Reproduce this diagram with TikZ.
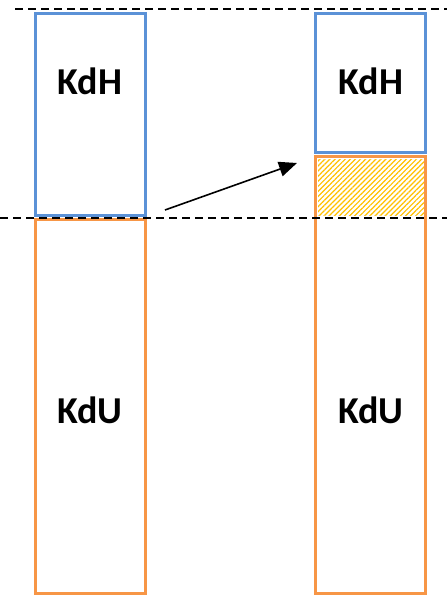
\documentclass[tikz,border=0pt]{standalone}
\usepackage{fontspec}
\setmainfont{Carlito}
\usetikzlibrary{patterns.meta,arrows.meta}
\definecolor{kblue}{RGB}{91,146,215}
\definecolor{korange}{RGB}{247,150,70}
\definecolor{khatch}{RGB}{255,192,0}
\begin{document}
\begin{tikzpicture}[x=1pt,y=-1pt,
  box/.style={draw, line width=3pt, rectangle, inner sep=0pt, minimum width=110pt},
  lbl/.style={font=\fontsize{38}{40}\selectfont\bfseries, inner sep=0pt},
  guide/.style={line width=1.3pt, dash pattern=on 8pt off 5pt}]
\useasboundingbox (0,0) rectangle (447,596);
% hatched part
\node[inner sep=0pt, minimum width=106pt, minimum height=55pt,
  pattern={Lines[angle=45, distance=3.6pt, line width=1.2pt]}, pattern color=khatch] (hatch) at (371,187.5) {};
% boxes
\node[box, draw=kblue, minimum height=201pt] (h1) at (90,114.5) {};
\node[box, draw=korange, minimum height=374pt] (u1) at (90,406) {};
\node[box, draw=kblue, minimum height=139pt] (h2) at (370.5,83.5) {};
\node[box, draw=korange, minimum height=436pt] (u2) at (370.5,375) {};
% labels
\node[lbl] (t1) at (90,81) {KdH};
\node[lbl] (t2) at (371,81) {KdH};
\node[lbl] (t3) at (90,410) {KdU};
\node[lbl] (t4) at (371,410) {KdU};
% guide lines
\coordinate (g1a) at (15,9);
\coordinate (g1b) at (447,9);
\coordinate (g2a) at (0,218);
\coordinate (g2b) at (447,218);
\draw[guide] (g1a) -- (g1b);
\draw[guide] (g2a) -- (g2b);
% arrow
\coordinate (as) at (165,210);
\coordinate (ae) at (297,163);
\draw[line width=1.6pt, -{Triangle[length=18pt,width=15pt]}] (as) -- (ae);
\end{tikzpicture}
\end{document}
